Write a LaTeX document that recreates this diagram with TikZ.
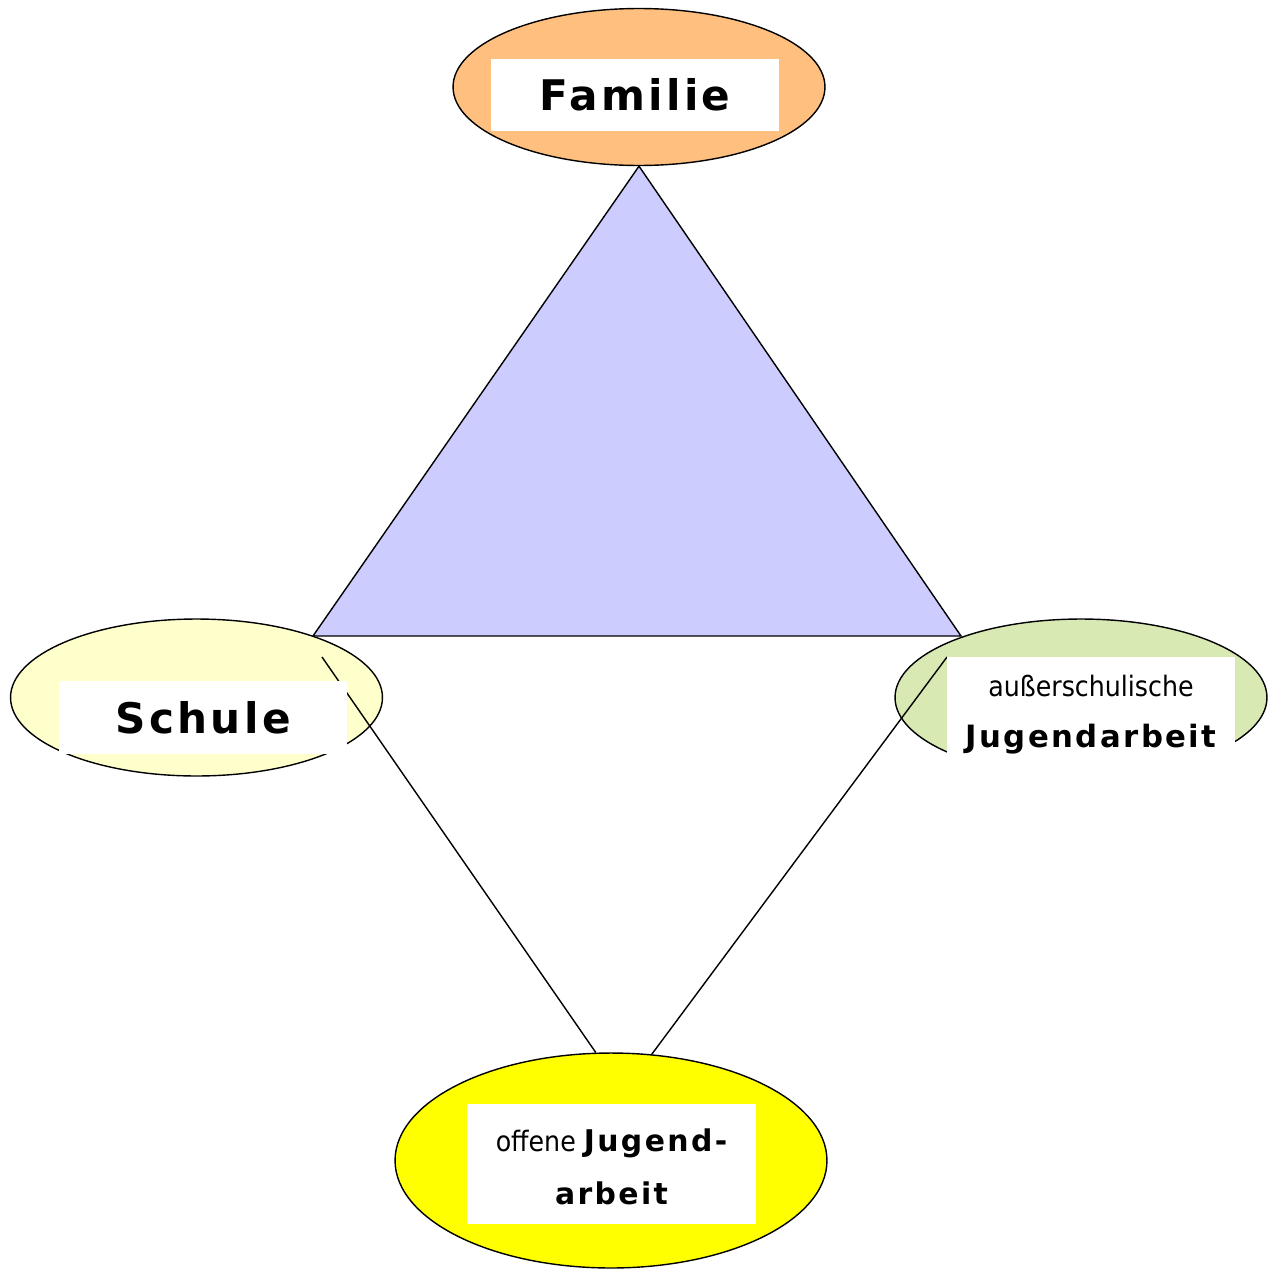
\documentclass[tikz,border=0pt]{standalone}
\usepackage{fontspec}
\setmainfont{DejaVu Sans}
\newfontfamily\headfont[LetterSpace=8]{DejaVu Sans Bold}
\newfontfamily\thinfont{DejaVu Sans Condensed}
\usetikzlibrary{shapes.geometric}

\definecolor{famorange}{RGB}{255,191,127}
\definecolor{schulgelb}{RGB}{255,255,204}
\definecolor{jugendgruen}{RGB}{216,233,180}
\definecolor{offengelb}{RGB}{255,255,0}
\definecolor{dreieck}{RGB}{204,204,255}

\tikzset{
	blob/.style={ellipse, draw=black, line width=0.8pt, minimum width=7.44cm, minimum height=3.14cm},
	labelbox/.style={fill=white, inner sep=0pt, align=center, minimum width=5.76cm},
}

\begin{document}
\begin{tikzpicture}[x=0.02cm, y=-0.02cm, line width=0.8pt]
	
	\useasboundingbox (0,0) rectangle (1271,1268);
	
	% Ellipsen
	\node[blob, fill=famorange] (familie) at (639,87) {};
	\node[blob, fill=schulgelb] (schule) at (196.5,697.5) {};
	\node[blob, fill=jugendgruen] (aussen) at (1081,697.5) {};
	\node[blob, fill=offengelb, minimum width=8.64cm, minimum height=4.3cm] (offen) at (611,1160.5) {};
	
	% Dreieck
	\coordinate (links) at (313,636);
	\coordinate (rechts) at (961,636);
	\draw[fill=dreieck] (familie.south) -- (links) -- (rechts) -- cycle;
	
	% Verbindungen nach unten
	\coordinate (schulende) at (322,657);
	\coordinate (aussenende) at (947,657);
	\draw (schulende) -- (offen.98);
	\draw (aussenende) -- (offen.69);
	
	% Beschriftung
	\node[labelbox, minimum height=1.44cm] (familietext) at (635,95) {\fontsize{24}{28}\headfont Familie};
	\node[labelbox, minimum height=1.46cm] (schuletext) at (203,717.5) {\fontsize{24}{28}\headfont Schule};
	\node[labelbox, minimum height=2.46cm] (aussenbox) at (1091,718.5) {};
	\node[align=center, inner sep=0pt, font=\fontsize{16}{29}\selectfont] (aussentext) at (1091,715) {\thinfont außerschulische\\\fontsize{17.5}{29}\headfont Jugendarbeit};
	\node[labelbox, minimum width=5.78cm, minimum height=2.4cm] (offenbox) at (611.5,1164) {};
	\node[align=center, inner sep=0pt, font=\fontsize{16}{30}\selectfont] (offentext) at (611.5,1167) {\thinfont offene {\fontsize{17}{30}\headfont Jugend-}\\\fontsize{17}{30}\headfont arbeit};
	
\end{tikzpicture}
\end{document}
